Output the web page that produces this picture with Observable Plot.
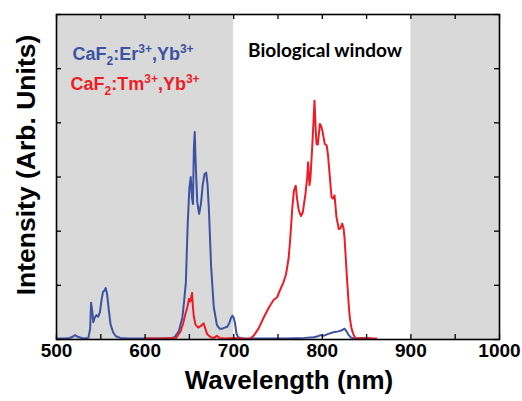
<!DOCTYPE html>
<html><head><meta charset="utf-8">
<script src="https://cdn.jsdelivr.net/npm/d3@7"></script>
<script src="https://cdn.jsdelivr.net/npm/@observablehq/plot@0.6"></script>
<style>
html,body{margin:0;padding:0;background:#fff}
</style>
</head><body><div id="chart"></div>
<script>
// Er3+,Yb3+ spectrum (blue)
const blueWl = [500,510,515,518,521,524,530,536,538,539,540.5,541.5,543,545,547,549,551,552.5,554,555.5,557,559,561,564,567,572,580,600,620,630,633,638,642,644,646,648,650,651.5,653,654,655,656,657,658.8,661,663,665,667,669,670.5,672,674.5,677.5,681,684,687,690,692.5,695,697,698.5,700,701.5,703,705,710,720,740,760,780,790,795,798,802,806,810,814,818,822,825,827,829,832,836,845,855];
const blueVal = [0.02,0.02,0.03,0.05,0.08,0.05,0.02,0.03,0.2,0.68,0.5,0.32,0.4,0.45,0.42,0.5,0.75,0.88,0.9,0.95,0.85,0.55,0.28,0.13,0.06,0.03,0.02,0.02,0.02,0.03,0.04,0.15,0.4,0.7,1.05,2.1,2.8,3.0,2.6,2.5,3.5,3.83,3.3,2.55,2.32,2.5,2.85,3.05,3.08,2.85,2.4,1.35,0.6,0.27,0.2,0.2,0.22,0.23,0.3,0.4,0.44,0.4,0.3,0.12,0.04,0.02,0.02,0.02,0.02,0.03,0.04,0.06,0.08,0.07,0.1,0.12,0.14,0.15,0.17,0.2,0.16,0.1,0.04,0.02,0.03,0.02];
// Tm3+,Yb3+ spectrum (red)
const redWl = [601,620,635,640,643,645.5,648,649.5,651,653,654,655,657,660,663,666,668,670,674,678,681,684,690,700,708,715,719,723,728,734,740,745,749,752,756,759,762,764,766,768,770,771.5,773.5,776,778,781,783,784,785.5,786.5,788.6,790,791.2,792.5,793.5,795,797.2,798.5,800,802.8,805,806.5,807.5,810.4,812,813.8,816,818.6,820.5,822.5,824,825,826.5,828,830,831,833,835,837.5,845,850,855,861];
const redVal = [0.02,0.02,0.03,0.15,0.3,0.47,0.62,0.75,0.7,0.86,0.6,0.42,0.27,0.22,0.25,0.3,0.2,0.1,0.04,0.03,0.07,0.03,0.02,0.03,0.02,0.01,0.02,0.08,0.2,0.41,0.6,0.73,0.78,0.9,1.05,1.2,1.5,1.9,2.4,2.75,2.84,2.6,2.38,2.28,2.35,2.69,3.0,3.27,2.85,2.95,3.55,4.0,4.41,3.9,3.61,3.6,3.98,3.95,3.86,3.61,3.58,3.4,3.2,2.63,2.6,2.66,2.26,2.04,2.05,2.14,2.05,1.9,1.5,1.09,0.6,0.41,0.2,0.1,0.02,0.02,0.03,0.02,0.02];

const xTickLabels = [500,600,700,800,900,1000];
const xMinorTicks = [500,550,600,650,700,750,800,850,900,950,1000];
const yTicks = [0,1,2,3,4,5,6];
const shadeStart = [500,900];
const shadeEnd = [700,1000];
const legendNames = ["CaF2:Er3+,Yb3+","CaF2:Tm3+,Yb3+"];
const windowLabel = "Biological window";
const xTitle = "Wavelength (nm)";
const yTitle = "Intensity (Arb. Units)";

const blueColor = "#3c52a3";
const redColor = "#ee1c25";
const blue = blueWl.map((w,i)=>({wl:w, v:blueVal[i]}));
const red = redWl.map((w,i)=>({wl:w, v:redVal[i]}));
const shaded = shadeStart.map((s,i)=>({x1:s, x2:shadeEnd[i]}));

const W=522, H=401, mL=56, mR=23, mT=14, mB=62;
const fw=W-mL-mR, fh=H-mT-mB, tl=5;
const font = "'Liberation Sans', Arial, sans-serif";

const chart = Plot.plot({
  width: W, height: H,
  marginLeft: mL, marginRight: mR, marginTop: mT, marginBottom: mB,
  x: {domain:[500,1000], axis:null},
  y: {domain:[0,6], axis:null},
  style: {fontFamily: font, background:"#fff", overflow:"visible"},
  marks: [
    Plot.rect(shaded, {x1:"x1", x2:"x2", fill:"#d9d9d9"}),
    Plot.line(blue, {x:"wl", y:"v", stroke:blueColor, strokeWidth:2}),
    Plot.line(red, {x:"wl", y:"v", stroke:redColor, strokeWidth:2}),
    Plot.tickX(xMinorTicks, {x:d=>d, insetTop: fh-tl, stroke:"#000", strokeWidth:1.3}),
    Plot.tickX(xMinorTicks, {x:d=>d, insetBottom: fh-tl, stroke:"#000", strokeWidth:1.3}),
    Plot.tickY(yTicks, {y:d=>d, insetRight: fw-tl, stroke:"#000", strokeWidth:1.3}),
    Plot.tickY(yTicks, {y:d=>d, insetLeft: fw-tl, stroke:"#000", strokeWidth:1.3}),
    Plot.frame({stroke:"#000", strokeWidth:1.6}),
    Plot.text(xTickLabels, {x:d=>d, text:d=>String(d), frameAnchor:"bottom", dy:17, fontSize:19, fontWeight:"bold", fill:"#000"}),
    Plot.text([xTitle], {text:d=>d, frameAnchor:"bottom", dx:11, dy:49, fontSize:26, fontWeight:"bold", fill:"#000"}),
    Plot.text([yTitle], {text:d=>d, frameAnchor:"left", textAnchor:"middle", rotate:-90, dx:-30, dy:-12, fontSize:26.5, fontWeight:"bold", fill:"#000"}),
    Plot.text([legendNames[0]], {text:d=>d, frameAnchor:"top-left", textAnchor:"start", dx:16, dy:33, fontSize:18, fontWeight:"bold", fill:blueColor}),
    Plot.text([legendNames[1]], {text:d=>d, frameAnchor:"top-left", textAnchor:"start", dx:14, dy:63, fontSize:18, fontWeight:"bold", fill:redColor}),
    Plot.text([windowLabel], {text:d=>d, frameAnchor:"top", dx:47, dy:29, fontSize:19, fontWeight:"bold", fill:"#000", fontFamily:"Lato"})
  ]
});
document.getElementById("chart").appendChild(chart);

// rich text for chemical formulas (subscript / superscript)
d3.select(chart).selectAll("text").each(function(){
  const t = this.textContent;
  if (!legendNames.includes(t)) return;
  const m = t.match(/^CaF2:(\w+)3\+,Yb3\+$/);
  const sel = d3.select(this);
  sel.text(null);
  const parts = [
    ["CaF",0,null],["2",5,12],[":"+m[1],-5,null],["3+",-7,12],[",Yb",7,null],["3+",-7,12]
  ];
  parts.forEach(([s,dy,fs])=>{
    const ts = sel.append("tspan").text(s);
    if (dy) ts.attr("dy", dy);
    if (fs) ts.attr("font-size", fs);
  });
});
</script>
</body></html>
